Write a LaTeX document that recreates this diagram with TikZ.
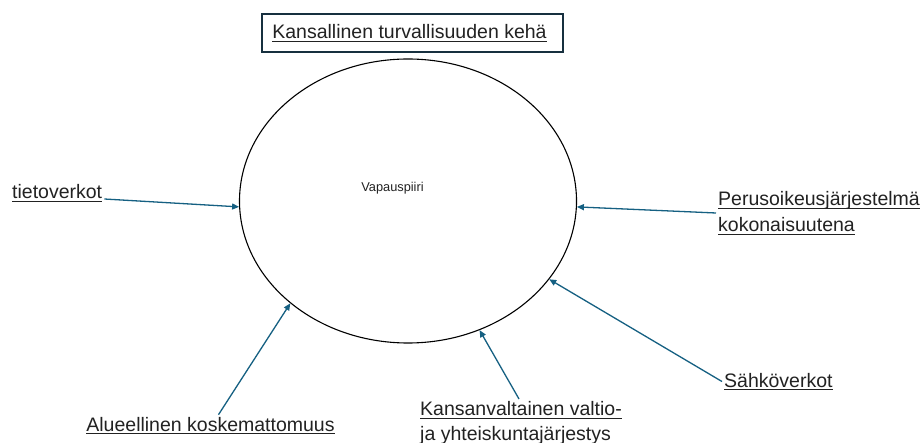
\documentclass[tikz,border=0pt]{standalone}
\usepackage{fontspec}
\setmainfont{Liberation Sans}
\usetikzlibrary{shapes.geometric,arrows.meta}
\definecolor{arrowc}{HTML}{156082}
\definecolor{boxc}{HTML}{17303F}
\definecolor{txtc}{HTML}{222222}
\newcommand\myul[1]{\setbox0\hbox{#1}\rlap{\rule[-3.2pt]{\wd0}{0.9pt}}\box0}
\tikzset{
  lbl/.style={font=\fontsize{19.5}{25.5}\selectfont, text=txtc, inner sep=2pt, align=left},
  conn/.style={draw=arrowc, line width=1.3pt, -{Triangle[length=7pt,width=6pt]}},
}
\begin{document}
\begin{tikzpicture}[x=1pt,y=-1pt]
\useasboundingbox (0,0) rectangle (923,443);
\fill[white] (0,0) rectangle (923,443);
% title
\node[draw=boxc, line width=1.3pt, minimum width=301pt, minimum height=38pt, inner sep=0pt,
      font=\fontsize{19.5}{24}\selectfont, text=txtc] (title) at (412.5,33) {\kern-6pt\myul{Kansallinen turvallisuuden kehä}};
% ellipse
\node[ellipse, draw=black, line width=1.1pt, minimum width=337pt, minimum height=284pt, inner sep=0pt] (E) at (408,201) {};
\node[font=\fontsize{12.8}{15}\selectfont, text=txtc] (V) at (392.5,188) {Vapauspiiri};
% labels
\node[lbl, anchor=base west] (T) at (10,199) {\myul{tietoverkot}};
\node[lbl, anchor=west] (P) at (716,213) {\myul{Perusoikeusjärjestelmä}\\\myul{kokonaisuutena}};
\node[lbl, anchor=base] (A) at (210.5,431) {\myul{Alueellinen koskemattomuus}};
\node[lbl, anchor=north west] (K) at (418,399) {\myul{Kansanvaltainen valtio-}\\\myul{ja yhteiskuntajärjestys}};
\node[lbl, anchor=base west] (S) at (722,387) {\myul{Sähköverkot}};
% connectors
\draw[conn] (T.base east) -- (E.182.4);
\draw[conn] (P.west) -- (E.-2);
\draw[conn] ([xshift=8pt]A.north) -- (E.221.2);
\draw[conn] ([xshift=-2pt]K.north) -- (E.-61.4);
\draw[conn] (S.west) -- (E.-29.5);
\end{tikzpicture}
\end{document}
